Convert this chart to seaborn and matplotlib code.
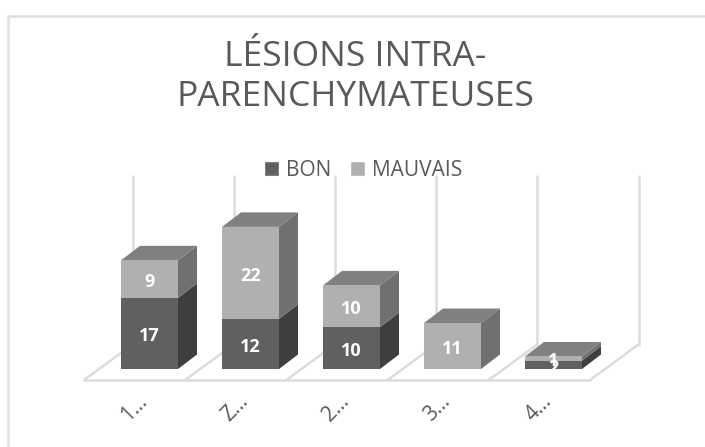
import matplotlib
matplotlib.use("Agg")
import matplotlib.pyplot as plt
import pandas as pd
import seaborn as sns
from matplotlib.patches import Polygon, Rectangle

categories = ["1…", "Z…", "2…", "3…", "4…"]
bon = [17, 12, 10, 0, 2]
mauvais = [9, 22, 10, 11, 1]
series_names = ["BON", "MAUVAIS"]
title_text = "LÉSIONS INTRA-\nPARENCHYMATEUSES"

W, H = 705, 447
FRONT = {"BON": "#606060", "MAUVAIS": "#b0b0b0"}
SIDE = {"BON": "#3e3e3e", "MAUVAIS": "#707070"}
TOP = {"BON": "#808080", "MAUVAIS": "#808080"}
GRID = "#dcdcdc"
PX_X, X0 = 101.0, 149.5
PX_Y, Y0 = 4.18, 369.0
DX, DY = 19 / PX_X, 14.5 / PX_Y
BAR_W = 57 / PX_X

sns.set_theme(style="white")
plt.rcParams["font.family"] = ["Open Sans", "DejaVu Sans"]
fig = plt.figure(figsize=(W / 100, H / 100), dpi=100)
fig.patches.append(Rectangle((8 / W, -0.1), 1.2, 1.1 - 16 / H, transform=fig.transFigure,
                             fill=False, ec="#e0e0e0", lw=1.8))

L, R, B, T = 84, 645, 380, 170
ax = fig.add_axes([L / W, 1 - B / H, (R - L) / W, (B - T) / H])
ax.patch.set_alpha(0)
df = pd.DataFrame({"cat": range(len(categories)), "BON": bon, "MAUVAIS": mauvais})

sns.barplot(x=df["cat"], y=df["BON"], color=FRONT["BON"], width=BAR_W, saturation=1,
            native_scale=True, ax=ax, zorder=5, linewidth=0)
sns.barplot(x=df["cat"], y=df["MAUVAIS"], bottom=df["BON"], color=FRONT["MAUVAIS"], width=BAR_W,
            saturation=1, native_scale=True, ax=ax, zorder=5, linewidth=0)
ax.set_xlim((L - X0) / PX_X, (R - X0) / PX_X)
ax.set_ylim((Y0 - B) / PX_Y, (Y0 - T) / PX_Y)
ax.set(xlabel="", ylabel="")
for s in ax.spines.values():
    s.set_visible(False)

# floor and back walls
fl, fr = (84 - X0) / PX_X, (590 - X0) / PX_X
fb = (Y0 - 380) / PX_Y
bb = (Y0 - 344.5) / PX_Y
sk = 48.5 / PX_X
kw = dict(color=GRID, lw=1.8, clip_on=False, zorder=1, solid_capstyle="round")
ax.plot([fl, fr], [fb, fb], **kw)
for i in range(len(categories) + 1):
    x = fl + i * (fr - fl) / len(categories)
    ax.plot([x, x + sk], [fb, bb], **kw)
    ax.plot([x + sk, x + sk], [bb, (Y0 - 176) / PX_Y], **kw)

# 3D faces and labels
for i in range(len(categories)):
    base = 0
    xl, xr = i - BAR_W / 2, i + BAR_W / 2
    stack = [("BON", bon[i]), ("MAUVAIS", mauvais[i])]
    stack = [(n, v) for n, v in stack if v > 0]
    for n, v in stack:
        ax.add_patch(Polygon([(xr, base), (xr + DX, base + DY), (xr + DX, base + v + DY), (xr, base + v)],
                             fc=SIDE[n], ec="none", zorder=4))
        base += v
    ax.add_patch(Polygon([(xl, base), (xr, base), (xr + DX, base + DY), (xl + DX, base + DY)],
                         fc=TOP[stack[-1][0]], ec="none", zorder=4))
    base = 0
    for n, v in stack:
        ax.text(i, base + v / 2 - 0.7, str(v), ha="center", va="center", color="white",
                fontsize=13, fontweight="bold", zorder=7)
        base += v

ax.set_xticks([t - 15 / PX_X for t in range(len(categories))])
ax.set_xticklabels(categories, rotation=45, ha="center", va="top", fontsize=15, color="#595959")
ax.set_yticks([])
ax.tick_params(axis="x", length=0, pad=8)

fig.text(355 / W, 1 - 77 / H, title_text, ha="center", va="center", fontsize=25.5,
         color="#595959", linespacing=1.25)

# legend
handles = [Rectangle((0, 0), 1, 1, fc=FRONT[n]) for n in series_names]
fig.legend(handles, series_names, loc="center", bbox_to_anchor=(363.5 / W, 1 - 170 / H), ncol=2,
           frameon=False, fontsize=15, labelcolor="#595959", handlelength=0.7, handleheight=0.7,
           handletextpad=0.35, columnspacing=0.9)

fig.savefig("out.png", dpi=100)
